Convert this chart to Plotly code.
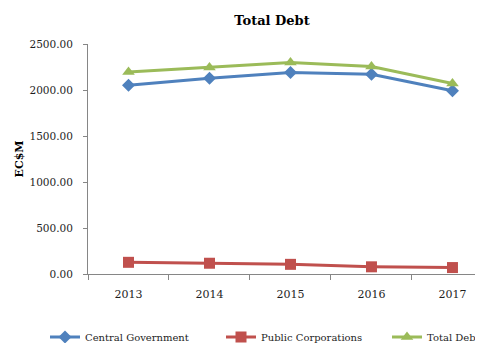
import plotly.graph_objects as go

years = ["2013", "2014", "2015", "2016", "2017"]
central_government = [2052, 2127, 2190, 2172, 1992]
public_corporations = [127, 117, 105, 78, 70]
total_debt = [2195, 2245, 2298, 2255, 2070]
y_ticks = [0, 500, 1000, 1500, 2000, 2500]
y_tick_labels = ["0.00", "500.00", "1000.00", "1500.00", "2000.00", "2500.00"]

FONT = "DejaVu Serif"
TXT = "#1e1e1e"
AX = "#868686"
W, H = 475, 335  # page body has an 8px offset

fig = go.Figure()
fig.add_trace(go.Scatter(
    x=years, y=central_government, name="Central Government", mode="lines+markers",
    line=dict(color="#4F81BD", width=3), marker=dict(symbol="diamond", size=10, color="#4F81BD"),
    legend="legend"))
fig.add_trace(go.Scatter(
    x=years, y=public_corporations, name="Public Corporations", mode="lines+markers",
    line=dict(color="#C0504D", width=3), marker=dict(symbol="square", size=11, color="#C0504D"),
    legend="legend2"))
fig.add_trace(go.Scatter(
    x=years, y=total_debt, name="Total Debt", mode="lines+markers",
    line=dict(color="#9BBB59", width=3), marker=dict(symbol="triangle-up", size=11, color="#9BBB59"),
    legend="legend3"))

leg_common = dict(orientation="h", xref="container", yref="container", xanchor="left",
                  yanchor="middle", y=1 - 329 / H, font=dict(family=FONT, size=10, color=TXT),
                  bgcolor="rgba(0,0,0,0)", itemwidth=30)

fig.update_layout(
    width=W, height=H,
    margin=dict(l=80, r=0, t=36, b=69, autoexpand=False),
    paper_bgcolor="white", plot_bgcolor="white",
    font=dict(family=FONT, size=11, color=TXT),
    title=dict(text="<b>Total Debt</b>", x=264 / W, xanchor="center", xref="container",
               y=1 - 12 / H, yanchor="middle", yref="container",
               font=dict(family=FONT, size=13, color="#000000")),
    xaxis=dict(type="category", range=[-0.5, 4.377], showgrid=False, showline=True,
               linecolor=AX, linewidth=1, ticks="outside", tickson="boundaries",
               ticklen=5, tickcolor=AX, ticklabelstandoff=10,
               tickfont=dict(family=FONT, size=11, color=TXT), fixedrange=True),
    yaxis=dict(range=[0, 2500], tickvals=y_ticks, ticktext=y_tick_labels, showgrid=False,
               showline=True, linecolor=AX, linewidth=1, ticks="outside", ticklen=4,
               tickcolor=AX, zeroline=False, ticklabelstandoff=8,
               title=dict(text="<b>EC$M</b>", font=dict(family=FONT, size=11, color="#000000"), standoff=3),
               tickfont=dict(family=FONT, size=10.5, color=TXT)),
    legend=dict(leg_common, x=37 / W),
    legend2=dict(leg_common, x=213 / W),
    legend3=dict(leg_common, x=379 / W),
    showlegend=True,
)

fig.write_html("out.html")
